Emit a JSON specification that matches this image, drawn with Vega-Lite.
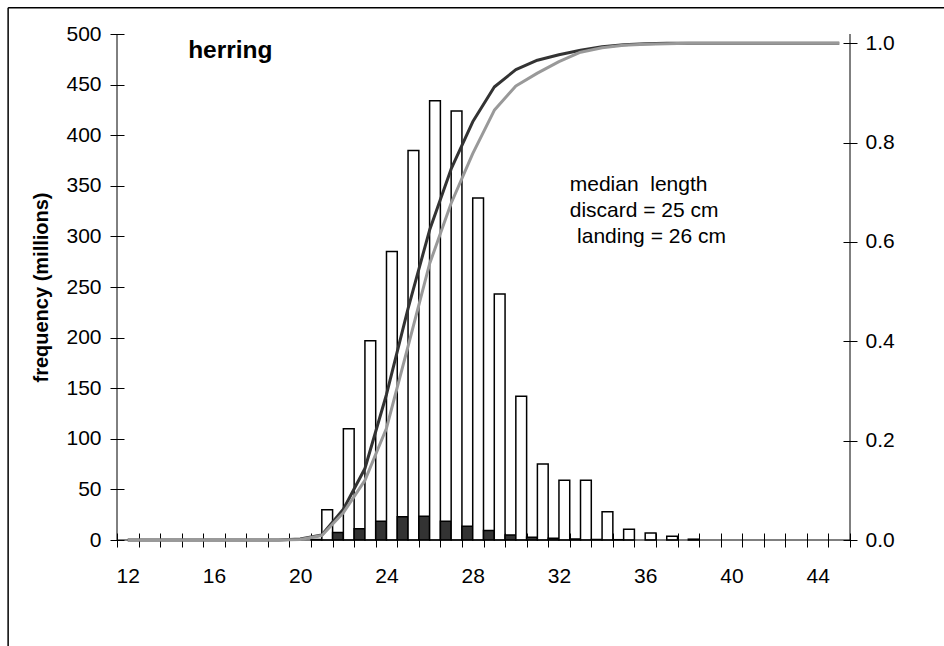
{
  "$schema": "https://vega.github.io/schema/vega-lite/v6.json",
  "width": 733,
  "height": 506,
  "autosize": {"type": "none"},
  "padding": {"left": 117, "top": 34, "right": 94, "bottom": 106},
  "background": "white",
  "config": {
    "view": {"stroke": null},
    "font": "Liberation Sans",
    "axis": {
      "labelFont": "Liberation Sans",
      "titleFont": "Liberation Sans",
      "labelColor": "black",
      "titleColor": "black",
      "tickColor": "black",
      "tickWidth": 1,
      "grid": false,
      "labelFontSize": 21
    }
  },
  "datasets": {
    "freq": [
      {"len": 21, "series": "discard", "freq": 0.5},
      {"len": 21, "series": "landing", "freq": 30},
      {"len": 22, "series": "discard", "freq": 7.5},
      {"len": 22, "series": "landing", "freq": 110},
      {"len": 23, "series": "discard", "freq": 11},
      {"len": 23, "series": "landing", "freq": 197},
      {"len": 24, "series": "discard", "freq": 18.5},
      {"len": 24, "series": "landing", "freq": 285},
      {"len": 25, "series": "discard", "freq": 23},
      {"len": 25, "series": "landing", "freq": 385},
      {"len": 26, "series": "discard", "freq": 23.5},
      {"len": 26, "series": "landing", "freq": 434},
      {"len": 27, "series": "discard", "freq": 18.5},
      {"len": 27, "series": "landing", "freq": 424},
      {"len": 28, "series": "discard", "freq": 13.5},
      {"len": 28, "series": "landing", "freq": 338},
      {"len": 29, "series": "discard", "freq": 9.5},
      {"len": 29, "series": "landing", "freq": 243},
      {"len": 30, "series": "discard", "freq": 5},
      {"len": 30, "series": "landing", "freq": 142},
      {"len": 31, "series": "discard", "freq": 2.7},
      {"len": 31, "series": "landing", "freq": 75},
      {"len": 32, "series": "discard", "freq": 1.7},
      {"len": 32, "series": "landing", "freq": 59},
      {"len": 33, "series": "discard", "freq": 1},
      {"len": 33, "series": "landing", "freq": 59},
      {"len": 34, "series": "discard", "freq": 0.5},
      {"len": 34, "series": "landing", "freq": 28},
      {"len": 35, "series": "discard", "freq": 0.3},
      {"len": 35, "series": "landing", "freq": 10.5},
      {"len": 36, "series": "landing", "freq": 7},
      {"len": 37, "series": "landing", "freq": 3.7},
      {"len": 38, "series": "landing", "freq": 0.8}
    ],
    "cum": [
      {"len": 12, "series": "discard", "cum": 0},
      {"len": 13, "series": "discard", "cum": 0},
      {"len": 14, "series": "discard", "cum": 0},
      {"len": 15, "series": "discard", "cum": 0},
      {"len": 16, "series": "discard", "cum": 0},
      {"len": 17, "series": "discard", "cum": 0},
      {"len": 18, "series": "discard", "cum": 0},
      {"len": 19, "series": "discard", "cum": 0},
      {"len": 20, "series": "discard", "cum": 0.002},
      {"len": 21, "series": "discard", "cum": 0.01},
      {"len": 22, "series": "discard", "cum": 0.062},
      {"len": 23, "series": "discard", "cum": 0.144},
      {"len": 24, "series": "discard", "cum": 0.293},
      {"len": 25, "series": "discard", "cum": 0.466},
      {"len": 26, "series": "discard", "cum": 0.624},
      {"len": 27, "series": "discard", "cum": 0.747},
      {"len": 28, "series": "discard", "cum": 0.842},
      {"len": 29, "series": "discard", "cum": 0.912},
      {"len": 30, "series": "discard", "cum": 0.947},
      {"len": 31, "series": "discard", "cum": 0.966},
      {"len": 32, "series": "discard", "cum": 0.977},
      {"len": 33, "series": "discard", "cum": 0.986},
      {"len": 34, "series": "discard", "cum": 0.993},
      {"len": 35, "series": "discard", "cum": 0.997},
      {"len": 36, "series": "discard", "cum": 0.999},
      {"len": 37, "series": "discard", "cum": 1},
      {"len": 38, "series": "discard", "cum": 1},
      {"len": 39, "series": "discard", "cum": 1},
      {"len": 40, "series": "discard", "cum": 1},
      {"len": 41, "series": "discard", "cum": 1},
      {"len": 42, "series": "discard", "cum": 1},
      {"len": 43, "series": "discard", "cum": 1},
      {"len": 44, "series": "discard", "cum": 1},
      {"len": 45, "series": "discard", "cum": 1},
      {"len": 12, "series": "landing", "cum": 0},
      {"len": 13, "series": "landing", "cum": 0},
      {"len": 14, "series": "landing", "cum": 0},
      {"len": 15, "series": "landing", "cum": 0},
      {"len": 16, "series": "landing", "cum": 0},
      {"len": 17, "series": "landing", "cum": 0},
      {"len": 18, "series": "landing", "cum": 0},
      {"len": 19, "series": "landing", "cum": 0},
      {"len": 20, "series": "landing", "cum": 0.001},
      {"len": 21, "series": "landing", "cum": 0.009},
      {"len": 22, "series": "landing", "cum": 0.055},
      {"len": 23, "series": "landing", "cum": 0.12},
      {"len": 24, "series": "landing", "cum": 0.225},
      {"len": 25, "series": "landing", "cum": 0.39},
      {"len": 26, "series": "landing", "cum": 0.556},
      {"len": 27, "series": "landing", "cum": 0.678},
      {"len": 28, "series": "landing", "cum": 0.778},
      {"len": 29, "series": "landing", "cum": 0.865},
      {"len": 30, "series": "landing", "cum": 0.914},
      {"len": 31, "series": "landing", "cum": 0.94},
      {"len": 32, "series": "landing", "cum": 0.963},
      {"len": 33, "series": "landing", "cum": 0.982},
      {"len": 34, "series": "landing", "cum": 0.991},
      {"len": 35, "series": "landing", "cum": 0.996},
      {"len": 36, "series": "landing", "cum": 0.998},
      {"len": 37, "series": "landing", "cum": 0.999},
      {"len": 38, "series": "landing", "cum": 1},
      {"len": 39, "series": "landing", "cum": 1},
      {"len": 40, "series": "landing", "cum": 1},
      {"len": 41, "series": "landing", "cum": 1},
      {"len": 42, "series": "landing", "cum": 1},
      {"len": 43, "series": "landing", "cum": 1},
      {"len": 44, "series": "landing", "cum": 1},
      {"len": 45, "series": "landing", "cum": 1}
    ]
  },
  "layer": [
    {
      "layer": [
        {
          "data": {"name": "freq"},
          "mark": {"type": "bar", "stroke": "black", "strokeWidth": 1.5},
          "encoding": {
            "x": {
              "field": "len",
              "type": "ordinal",
              "title": null,
              "scale": {
                "type": "band",
                "domain": [12, 13, 14, 15, 16, 17, 18, 19, 20, 21, 22, 23, 24, 25, 26, 27, 28, 29, 30, 31, 32, 33, 34, 35, 36, 37, 38, 39, 40, 41, 42, 43, 44, 45],
                "paddingInner": 0,
                "paddingOuter": 0
              },
              "axis": {
                "labelExpr": "datum.value % 4 == 0 ? datum.label : ''",
                "labelAngle": 0,
                "tickBand": "extent",
                "offset": -7,
                "tickSize": 14,
                "domain": false,
                "labelPadding": 18,
                "labelFontSize": 21
              }
            },
            "xOffset": {
              "field": "series",
              "scale": {"domain": ["discard", "landing"], "paddingInner": 0, "paddingOuter": 0}
            },
            "y": {
              "field": "freq",
              "type": "quantitative",
              "title": "frequency (millions)",
              "scale": {"domain": [0, 500], "nice": false},
              "axis": {
                "values": [0, 50, 100, 150, 200, 250, 300, 350, 400, 450, 500],
                "offset": -7,
                "tickSize": 14,
                "domain": false,
                "labelPadding": 9,
                "labelFontSize": 21,
                "titleFontSize": 20,
                "titleFontWeight": "bold",
                "titlePadding": 14
              }
            },
            "fill": {
              "field": "series",
              "type": "nominal",
              "scale": {"domain": ["discard", "landing"], "range": ["#333333", "#ffffff"]},
              "legend": null
            }
          }
        },
        {
          "data": {"values": [{}]},
          "mark": {"type": "rule", "color": "black", "strokeWidth": 1},
          "encoding": {
            "x": {"datum": 12, "type": "ordinal", "bandPosition": 0, "title": null, "scale": {"type": "band"}}
          }
        },
        {
          "data": {"values": [{}]},
          "mark": {"type": "rule", "color": "black", "strokeWidth": 1},
          "encoding": {
            "x": {"datum": 45, "type": "ordinal", "bandPosition": 1, "title": null, "scale": {"type": "band"}}
          }
        },
        {
          "data": {"values": [{}]},
          "mark": {"type": "rule", "color": "black", "strokeWidth": 1},
          "encoding": {
            "y": {"datum": 0, "type": "quantitative", "title": "frequency (millions)"}
          }
        },
        {
          "data": {"values": [{}]},
          "mark": {"type": "rule", "color": "black", "strokeWidth": 1.5},
          "encoding": {
            "x": {"datum": 12, "type": "ordinal", "bandPosition": -5.05, "title": null, "scale": {"type": "band"}},
            "x2": {"datum": 45, "bandPosition": 6},
            "y": {"datum": 526, "type": "quantitative", "title": "frequency (millions)"}
          }
        },
        {
          "data": {"values": [{}]},
          "mark": {"type": "rule", "color": "black", "strokeWidth": 1.5},
          "encoding": {
            "x": {"datum": 12, "type": "ordinal", "bandPosition": -5.05, "title": null, "scale": {"type": "band"}},
            "y": {"datum": 526, "type": "quantitative", "title": "frequency (millions)"},
            "y2": {"datum": -130}
          }
        },
        {
          "data": {"values": [{}]},
          "mark": {"type": "text", "text": "herring", "fontSize": 24.5, "fontWeight": "bold", "align": "left", "baseline": "alphabetic", "color": "black"},
          "encoding": {
            "x": {"datum": 15, "type": "ordinal", "bandPosition": 0.3, "title": null, "scale": {"type": "band"}},
            "y": {"datum": 476, "type": "quantitative", "title": "frequency (millions)"}
          }
        },
        {
          "data": {"values": [{}]},
          "mark": {"type": "text", "text": ["median\u00a0 length", "discard = 25 cm"], "fontSize": 21, "lineHeight": 26, "align": "left", "baseline": "alphabetic", "color": "black"},
          "encoding": {
            "x": {"datum": 33, "type": "ordinal", "bandPosition": 0, "title": null, "scale": {"type": "band"}},
            "y": {"datum": 344.5, "type": "quantitative", "title": "frequency (millions)"}
          }
        },
        {
          "data": {"values": [{}]},
          "mark": {"type": "text", "text": "landing = 26 cm", "fontSize": 21, "align": "left", "baseline": "alphabetic", "color": "black"},
          "encoding": {
            "x": {"datum": 33, "type": "ordinal", "bandPosition": 0.34, "title": null, "scale": {"type": "band"}},
            "y": {"datum": 293, "type": "quantitative", "title": "frequency (millions)"}
          }
        }
      ]
    },
    {
      "layer": [
        {
          "data": {"name": "cum"},
          "mark": {"type": "line", "strokeWidth": 3, "strokeJoin": "round"},
          "encoding": {
            "x": {"field": "len", "type": "ordinal", "bandPosition": 0.5, "title": null, "scale": {"type": "band"}},
            "y": {
              "field": "cum",
              "type": "quantitative",
              "title": null,
              "scale": {"domain": [0, 1.0187], "nice": false},
              "axis": {
                "orient": "right",
                "values": [0, 0.2, 0.4, 0.6, 0.8, 1],
                "format": ".1f",
                "offset": -7,
                "tickSize": 14,
                "domain": false,
                "labelPadding": 8,
                "labelFontSize": 21
              }
            },
            "stroke": {
              "field": "series",
              "type": "nominal",
              "scale": {"domain": ["discard", "landing"], "range": ["#333333", "#999999"]},
              "legend": null
            }
          }
        }
      ]
    }
  ],
  "resolve": {"scale": {"y": "independent"}}
}
